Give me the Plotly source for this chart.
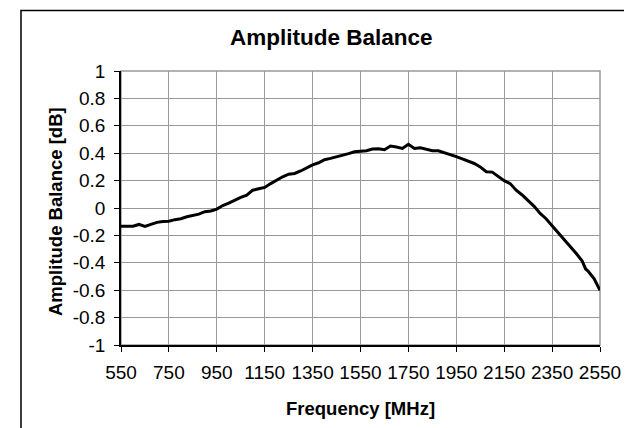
import plotly.graph_objects as go

# ---- data ----
freq_mhz = [550, 575, 600, 625, 650, 675, 700, 725, 750, 775, 800, 825, 850, 875, 900,
            925, 950, 975, 1000, 1025, 1050, 1075, 1100, 1125, 1150, 1175, 1200, 1225,
            1250, 1275, 1300, 1325, 1350, 1375, 1400, 1425, 1450, 1475, 1500, 1525, 1550,
            1575, 1600, 1625, 1650, 1675, 1700, 1725, 1750, 1775, 1800, 1825, 1850, 1875,
            1900, 1925, 1950, 1975, 2000, 2025, 2050, 2075, 2100, 2125, 2150, 2175, 2200,
            2225, 2250, 2275, 2300, 2325, 2350, 2375, 2400, 2425, 2450, 2475, 2490, 2500,
            2525, 2550]
balance_db = [-0.133, -0.133, -0.133, -0.12, -0.135, -0.12, -0.105, -0.098, -0.097, -0.085,
              -0.078, -0.064, -0.055, -0.045, -0.027, -0.022, -0.008, 0.018, 0.035, 0.058,
              0.078, 0.093, 0.13, 0.14, 0.15, 0.178, 0.205, 0.228, 0.247, 0.252, 0.27,
              0.295, 0.315, 0.33, 0.352, 0.362, 0.372, 0.385, 0.397, 0.41, 0.415, 0.418,
              0.43, 0.432, 0.425, 0.452, 0.445, 0.435, 0.465, 0.435, 0.44, 0.428, 0.418,
              0.418, 0.405, 0.388, 0.375, 0.358, 0.34, 0.325, 0.3, 0.265, 0.262, 0.23, 0.2,
              0.178, 0.13, 0.095, 0.057, 0.012, -0.04, -0.078, -0.13, -0.18, -0.225, -0.28,
              -0.33, -0.385, -0.445, -0.46, -0.515, -0.6]

x_ticks = [550, 750, 950, 1150, 1350, 1550, 1750, 1950, 2150, 2350, 2550]
y_ticks = [-1, -0.8, -0.6, -0.4, -0.2, 0, 0.2, 0.4, 0.6, 0.8, 1]
y_tick_labels = ["-1", "-0.8", "-0.6", "-0.4", "-0.2", "0", "0.2", "0.4", "0.6", "0.8", "1"]

title_text = "Amplitude Balance"
x_title = "Frequency [MHz]"
y_title = "Amplitude Balance [dB]"

FONT = "Liberation Sans, Arial, sans-serif"

fig = go.Figure()
fig.add_trace(go.Scatter(x=freq_mhz, y=balance_db, mode="lines",
                         line=dict(color="black", width=3), showlegend=False,
                         hoverinfo="skip"))

W, H = 632, 428
L, R, T, B = 113, 40, 63, 91
pw, ph = W - L - R, H - T - B

def px_x(px):
    return (px - L) / pw

def px_y(py):
    return (H - B - py) / ph

fig.update_layout(
    width=W, height=H,
    margin=dict(l=L, r=R, t=T, b=B, pad=0),
    paper_bgcolor="white", plot_bgcolor="white",
    font=dict(family=FONT, color="black", size=19),
    xaxis=dict(range=[550, 2550], tickvals=x_ticks, ticktext=[str(v) for v in x_ticks],
               showgrid=True, gridcolor="#999999", gridwidth=1, zeroline=False,
               showline=True, linecolor="black", linewidth=1.5,
               ticks="outside", ticklen=5, tickcolor="black", tickwidth=1,
               ticklabelstandoff=4,
               tickfont=dict(size=19), fixedrange=True),
    yaxis=dict(range=[-1, 1], tickvals=y_ticks, ticktext=y_tick_labels,
               showgrid=True, gridcolor="#999999", gridwidth=1, zeroline=False,
               showline=True, linecolor="black", linewidth=1.5,
               ticks="outside", ticklen=5, tickcolor="black", tickwidth=1,
               ticklabelstandoff=5,
               tickfont=dict(size=19), fixedrange=True),
    shapes=[
        dict(type="rect", xref="paper", yref="paper", x0=0, x1=1, y0=0, y1=1,
             line=dict(color="#999999", width=1.5), layer="below"),
        dict(type="rect", xref="paper", yref="paper",
             x0=px_x(13), x1=px_x(627.5), y0=px_y(470), y1=px_y(2.5),
             line=dict(color="black", width=1.5), layer="below"),
    ],
    annotations=[
        dict(text="<b>" + title_text + "</b>", xref="paper", yref="paper",
             x=px_x(323), y=px_y(29), xanchor="center", yanchor="middle",
             showarrow=False, font=dict(size=22.5, family=FONT)),
        dict(text="<b>" + x_title + "</b>", xref="paper", yref="paper",
             x=px_x(352), y=px_y(400), xanchor="center", yanchor="middle",
             showarrow=False, font=dict(size=18.5, family=FONT)),
        dict(text="<b>" + y_title + "</b>", xref="paper", yref="paper",
             x=px_x(47), y=px_y(204), xanchor="center", yanchor="middle",
             textangle=-90, showarrow=False, font=dict(size=18.5, family=FONT)),
    ],
)

fig.write_html("out.html", config={"displayModeBar": False})
